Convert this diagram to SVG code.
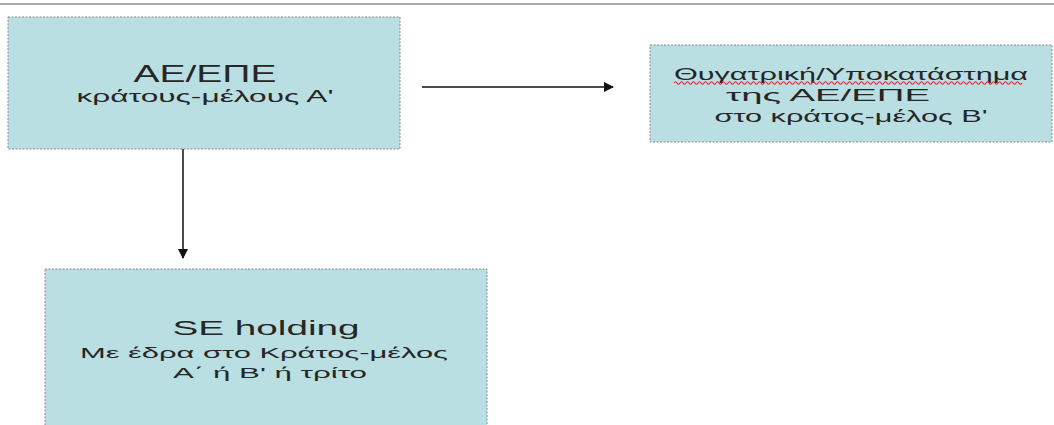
<svg xmlns="http://www.w3.org/2000/svg" width="1054" height="425" viewBox="0 0 1054 425">
<defs>
<style>
.box{fill:#b9dfe2;stroke:#8a8a8a;stroke-width:1;stroke-dasharray:2 1.5}
.t{font-family:"Liberation Sans","DejaVu Sans",Arial,sans-serif;fill:#262626;text-anchor:middle}
.edge{stroke:#111;stroke-width:1.5;fill:none}
</style>
<marker id="ah" viewBox="0 0 10 10" refX="9" refY="5" markerWidth="11" markerHeight="10" markerUnits="userSpaceOnUse" orient="auto">
<path d="M0,0 L10,5 L0,10 z" fill="#111"/>
</marker>
</defs>
<rect width="1054" height="425" fill="#fff"/>
<line x1="0" y1="4" x2="1054" y2="4" stroke="#8c8c8c" stroke-width="1.5"/>
<g id="node-ae">
<rect class="box" x="8" y="17" width="392" height="132"/>
<text class="t" x="205" y="82" font-size="24" textLength="143" lengthAdjust="spacingAndGlyphs">ΑΕ/ΕΠΕ</text>
<text class="t" x="205" y="102" font-size="17" textLength="257" lengthAdjust="spacingAndGlyphs">κράτους-μέλους Α'</text>
</g>
<g id="node-subsidiary">
<rect class="box" x="650" y="45" width="402" height="97"/>
<text class="t" x="851" y="80" font-size="16" textLength="354" lengthAdjust="spacingAndGlyphs">Θυγατρική/Υποκατάστημα</text>
<path d="M674,83 q1.5,-2.5 3,0 t3,0 t3,0 t3,0 t3,0 t3,0 t3,0 t3,0 t3,0 t3,0 t3,0 t3,0 t3,0 t3,0 t3,0 t3,0 t3,0 t3,0 t3,0 t3,0 t3,0 t3,0 t3,0 t3,0 t3,0 t3,0 t3,0 t3,0 t3,0 t3,0 t3,0 t3,0 t3,0 t3,0 t3,0 t3,0 t3,0 t3,0 t3,0 t3,0 t3,0 t3,0 t3,0 t3,0 t3,0 t3,0 t3,0 t3,0 t3,0 t3,0 t3,0 t3,0 t3,0 t3,0 t3,0 t3,0 t3,0 t3,0 t3,0 t3,0 t3,0 t3,0 t3,0 t3,0 t3,0 t3,0 t3,0 t3,0 t3,0 t3,0 t3,0 t3,0 t3,0 t3,0 t3,0 t3,0 t3,0 t3,0 t3,0 t3,0 t3,0 t3,0 t3,0 t3,0 t3,0 t3,0 t3,0 t3,0 t3,0 t3,0 t3,0 t3,0 t3,0 t3,0 t3,0 t3,0 t3,0 t3,0 t3,0 t3,0 t3,0 t3,0 t3,0 t3,0 t3,0 t3,0 t3,0 t3,0 t3,0 t3,0 t3,0 t3,0 t3,0 t3,0 t3,0 t3,0" fill="none" stroke="#e02828" stroke-width="1.1"/>
<text class="t" x="828" y="101" font-size="16" textLength="204" lengthAdjust="spacingAndGlyphs">της ΑΕ/ΕΠΕ</text>
<text class="t" x="851" y="122" font-size="16" textLength="273" lengthAdjust="spacingAndGlyphs">στο κράτος-μέλος Β'</text>
</g>
<g id="node-se">
<rect class="box" x="45" y="269" width="442" height="170"/>
<text class="t" x="266" y="335" font-size="21" textLength="187" lengthAdjust="spacingAndGlyphs">SE holding</text>
<text class="t" x="264" y="358" font-size="15" textLength="368" lengthAdjust="spacingAndGlyphs">Με έδρα στο Κράτος-μέλος</text>
<text class="t" x="270" y="378" font-size="15" textLength="194" lengthAdjust="spacingAndGlyphs">Α΄ ή Β' ή τρίτο</text>
</g>
<g id="connectors">
<line class="edge" x1="422" y1="87" x2="613" y2="87" marker-end="url(#ah)"/>
<line class="edge" x1="183" y1="149" x2="183" y2="258" marker-end="url(#ah)"/>
</g>
</svg>
